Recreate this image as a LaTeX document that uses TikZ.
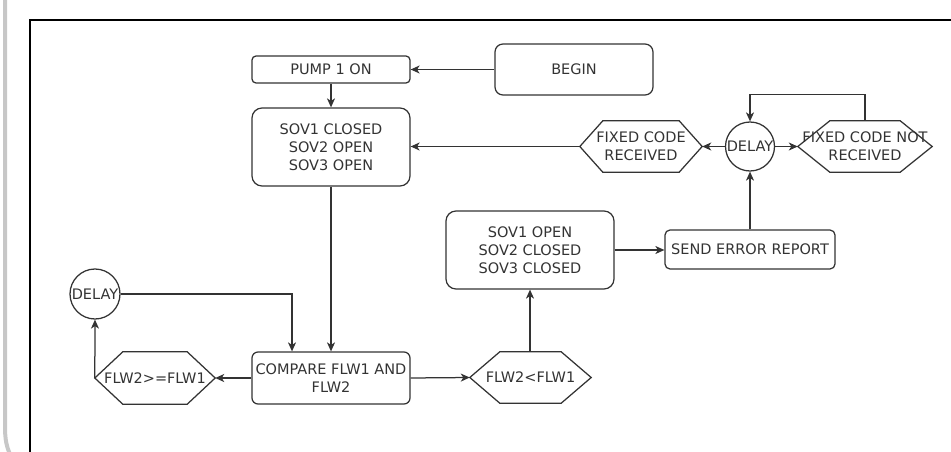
\documentclass[tikz,border=0pt]{standalone}
\usepackage{fontspec}
\setmainfont{DejaVu Sans}
\usetikzlibrary{arrows.meta}
\definecolor{ln}{HTML}{333333}
\definecolor{tx}{HTML}{333333}
\newcommand\hexpath[2]{\draw[ln, line width=1.25pt] (#1.west) -- ([xshift=#2]#1.north west) -- ([xshift=-#2]#1.north east) -- (#1.east) -- ([xshift=-#2]#1.south east) -- ([xshift=#2]#1.south west) -- cycle;}
\begin{document}
\begin{tikzpicture}[x=1pt,y=-1pt,
  base/.style={font=\fontsize{14.5}{18}\selectfont, text=tx, align=center, inner sep=0pt},
  rbox/.style={base, draw=ln, line width=1.25pt, rounded corners=#1},
  rbox/.default=8pt,
  hexa/.style={base},
  dcirc/.style={base, circle, draw=ln, line width=1.25pt, minimum size=49pt},
  conn/.style={ln, line width=1.25pt, -{Stealth[length=9pt,width=8pt,inset=2.5pt]}},
  plain/.style={ln, line width=1.25pt}]
\useasboundingbox (0,0) rectangle (951,452);
% side decoration and frame
\draw[black!22, line width=4pt, line cap=round] (5,-5) -- (5,425) to[out=-90,in=120] (13,460);
\draw[black, line width=2pt] (30,460) -- (30,20) -- (960,20);
% nodes
\node[rbox=4pt, minimum width=158pt, minimum height=27pt] (pump) at (331,69.5) {PUMP 1 ON};
\node[rbox=8pt, minimum width=158pt, minimum height=51pt] (begin) at (574,69.5) {BEGIN};
\node[rbox=10pt, minimum width=158pt, minimum height=78pt] (sovc) at (331,147) {SOV1 CLOSED\\SOV2 OPEN\\SOV3 OPEN};
\node[hexa, minimum width=122pt, minimum height=51pt] (fcr) at (641,146.5) {FIXED CODE\\RECEIVED};
\hexpath{fcr}{23pt}
\node[dcirc] (d1) at (750,146.5) {DELAY};
\node[hexa, minimum width=134pt, minimum height=51pt] (fcnr) at (865,146.5) {FIXED CODE NOT\\RECEIVED};
\hexpath{fcnr}{32pt}
\node[rbox=5pt, minimum width=170pt, minimum height=39pt] (send) at (750,249.5) {SEND ERROR REPORT};
\node[rbox=10pt, minimum width=168pt, minimum height=78pt] (sovo) at (530,250) {SOV1 OPEN\\SOV2 CLOSED\\SOV3 CLOSED};
\node[hexa, minimum width=121pt, minimum height=51pt] (lt) at (530.5,377.5) {FLW2<FLW1};
\hexpath{lt}{30pt}
\node[rbox=6pt, minimum width=158pt, minimum height=52pt] (cmp) at (331,378) {COMPARE FLW1 AND\\FLW2};
\node[hexa, minimum width=120pt, minimum height=52pt] (ge) at (155,378) {FLW2>=FLW1};
\hexpath{ge}{28pt}
\node[dcirc, minimum size=50pt] (d2) at (95,294) {DELAY};
% connectors
\draw[conn] (begin.west) -- (pump.east);
\draw[conn] (pump.south) -- (sovc.north);
\draw[conn] (fcr.west) -- (sovc.east |- fcr.west);
\draw[conn] (d1.west) -- (fcr.east);
\draw[conn] (d1.east) -- (fcnr.west);
\draw[conn] (fcnr.north) -- ++(0,-26) -| (d1.north);
\draw[conn] (send.north) -- (d1.south);
\draw[conn] (sovo.east) -- (send.west |- sovo.east);
\draw[conn] (lt.north -| sovo.south) -- (sovo.south);
\draw[conn] (cmp.east) -- (lt.west);
\draw[conn] (cmp.west) -- (ge.east);
\draw[conn] (ge.west) -- (d2.south);
\draw[conn] (d2.east) -| ([xshift=-39pt]cmp.north);
\draw[conn] (sovc.south) -- (cmp.north);
\end{tikzpicture}
\end{document}
